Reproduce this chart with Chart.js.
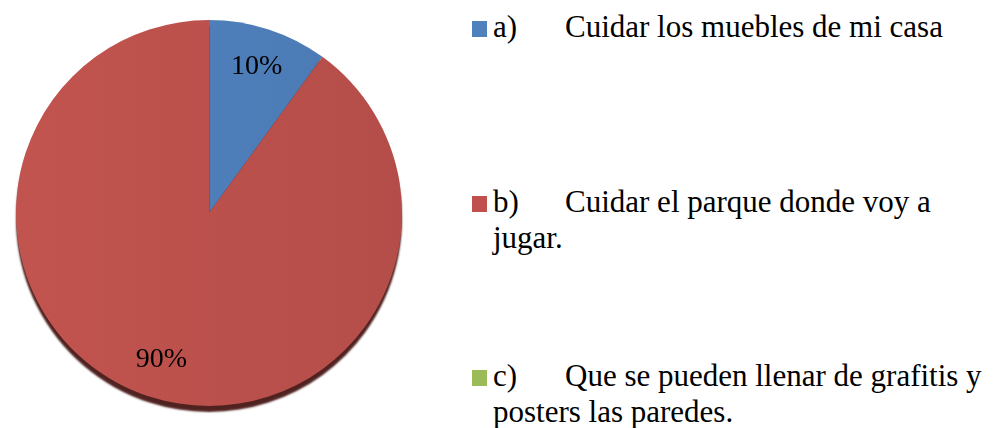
<!DOCTYPE html>
<html>
<head>
<meta charset="utf-8">
<script src="https://cdn.jsdelivr.net/npm/chart.js@4.4.1/dist/chart.umd.min.js"></script>
<style>
  html, body { margin: 0; padding: 0; background: #fff; }
  #wrap { position: relative; width: 1002px; height: 428px; overflow: hidden; font-family: 'Liberation Serif', Tinos, 'Times New Roman', Times, 'Nimbus Roman', 'DejaVu Serif', serif; }
  #pieBox { position: absolute; left: 0; top: 0; width: 418px; height: 428px; }
  .item { position: absolute; left: 493px; width: 512px; font-size: 31px; line-height: 36px; color: #000; }
  .pre { display: inline-block; width: 72px; }
  .mk { position: absolute; left: 472px; width: 15px; height: 16px; }
</style>
</head>
<body>
<div id="wrap">
  <div id="pieBox"><canvas id="c"></canvas></div>
  <div id="legend"></div>
</div>
<script>
const prefixes = ['a)', 'b)', 'c)'];
const categories = [
  'Cuidar los muebles de mi casa',
  'Cuidar el parque donde voy a jugar.',
  'Que se pueden llenar de grafitis y posters las paredes.'
];
const values = [10, 90, 0];
const pctLabels = ['10%', '90%', '0%'];
const colorsLight = ['#5384C0', '#C2544F', '#9BBB59'];
const colorsDark = ['#4A79B3', '#B44D49', '#8FAE4F'];
const baseColors = ['#4F81BD', '#C0504D', '#9BBB59'];
const serifFont = "'Liberation Serif', Tinos, 'Times New Roman', Times, 'Nimbus Roman', 'DejaVu Serif', serif";

// Legend (HTML) built from the arrays
const legendTops = [8.5, 183.5, 357.5];
const legend = document.getElementById('legend');
categories.forEach((cat, i) => {
  const mk = document.createElement('div');
  mk.className = 'mk';
  mk.style.top = (legendTops[i] + 12.5) + 'px';
  mk.style.background = baseColors[i];
  legend.appendChild(mk);
  const it = document.createElement('div');
  it.className = 'item';
  it.style.top = legendTops[i] + 'px';
  const p = document.createElement('span');
  p.className = 'pre';
  p.textContent = prefixes[i];
  it.appendChild(p);
  it.appendChild(document.createTextNode(cat));
  legend.appendChild(it);
});

const shadowPlugin = {
  id: 'pieShadow',
  beforeDatasetsDraw(chart) {
    const ctx = chart.ctx;
    ctx.save();
    ctx.shadowColor = 'rgba(70,22,20,0.95)';
    ctx.shadowOffsetY = 6;
    ctx.shadowOffsetX = 0;
    ctx.shadowBlur = 2;
  },
  afterDatasetsDraw(chart) {
    chart.ctx.restore();
  }
};

const labelPlugin = {
  id: 'pctLabels',
  afterDatasetsDraw(chart) {
    const ctx = chart.ctx;
    const meta = chart.getDatasetMeta(0);
    ctx.save();
    ctx.font = '28px ' + serifFont;
    ctx.fillStyle = '#000';
    ctx.textAlign = 'center';
    ctx.textBaseline = 'middle';
    meta.data.forEach((arc, i) => {
      if (!values[i]) return;
      const p = arc.getProps(['x', 'y', 'startAngle', 'endAngle', 'outerRadius'], true);
      const mid = (p.startAngle + p.endAngle) / 2;
      const r = p.outerRadius * 0.8;
      ctx.fillText(pctLabels[i], p.x + Math.cos(mid) * r, p.y + Math.sin(mid) * r);
    });
    ctx.restore();
  }
};

function grad(ctx, i) {
  const area = ctx.chart.chartArea;
  if (!area) return baseColors[i];
  const g = ctx.chart.ctx.createLinearGradient(area.left, area.top, area.right, area.top);
  g.addColorStop(0, colorsLight[i]);
  g.addColorStop(1, colorsDark[i]);
  return g;
}

new Chart(document.getElementById('c'), {
  type: 'pie',
  data: {
    labels: categories,
    datasets: [{
      data: values,
      backgroundColor: (ctx) => grad(ctx, ctx.dataIndex),
      borderWidth: 0
    }]
  },
  options: {
    responsive: true,
    maintainAspectRatio: false,
    animation: false,
    layout: { padding: { top: 20, bottom: 22, left: 14, right: 14 } },
    plugins: {
      legend: { display: false },
      tooltip: { enabled: false }
    }
  },
  plugins: [shadowPlugin, labelPlugin]
});
</script>
</body>
</html>
